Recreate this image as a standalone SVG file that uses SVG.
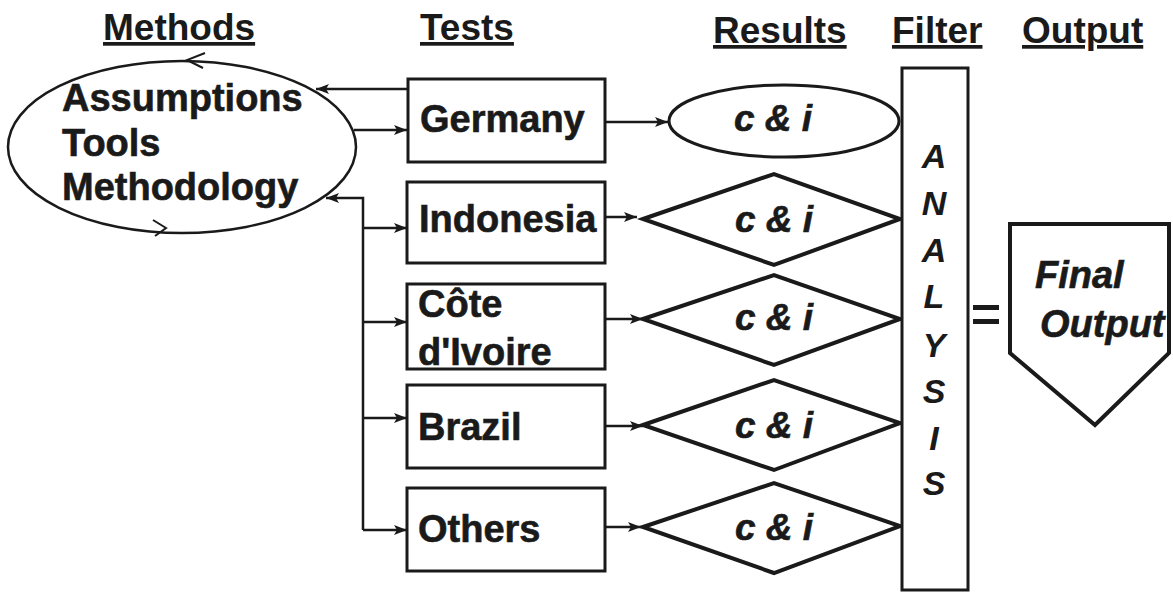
<svg xmlns="http://www.w3.org/2000/svg" width="1173" height="592" viewBox="0 0 1173 592">
<style>
.hdr{font-family:"Liberation Sans",Arial,sans-serif;font-weight:bold;font-size:37px;fill:#1a1a1a;text-decoration:underline}
.lbl{font-family:"Liberation Sans",Arial,sans-serif;font-weight:bold;font-size:38px;fill:#1a1a1a;stroke:#1a1a1a;stroke-width:0.6}
.it{font-family:"Liberation Sans",Arial,sans-serif;font-weight:bold;font-style:italic;font-size:37px;fill:#1a1a1a;stroke:#1a1a1a;stroke-width:0.6}
.ana{font-family:"Liberation Sans",Arial,sans-serif;font-weight:bold;font-style:italic;font-size:34px;fill:#1a1a1a;text-anchor:middle}
.box{fill:#fff;stroke:#1a1a1a;stroke-width:3}
.dia{fill:#fff;stroke:#1a1a1a;stroke-width:4;stroke-linejoin:miter}
.con{fill:none;stroke:#1a1a1a;stroke-width:2.5}
.chev{fill:none;stroke:#1a1a1a;stroke-width:2}
</style>
<defs>
<marker id="ah" markerWidth="14" markerHeight="12" refX="13" refY="6" orient="auto" markerUnits="userSpaceOnUse">
<path d="M0,1 L13,6 L0,11 L3,6 z" fill="#1a1a1a"/>
</marker>
</defs>
<rect width="1173" height="592" fill="#fff"/>

<g id="headers">
<text class="hdr" x="103" y="40">Methods</text>
<text class="hdr" x="420" y="40">Tests</text>
<text class="hdr" x="713" y="43">Results</text>
<text class="hdr" x="892" y="43">Filter</text>
<text class="hdr" x="1022" y="43">Output</text>
</g>

<g id="connectors">
<line class="con" x1="408" y1="89" x2="316" y2="89" marker-end="url(#ah)"/>
<line class="con" x1="354" y1="130" x2="407" y2="130" marker-end="url(#ah)"/>
<polyline class="con" points="363,530 363,198 326,198" marker-end="url(#ah)"/>
<line class="con" x1="363" y1="228" x2="407" y2="228" marker-end="url(#ah)"/>
<line class="con" x1="363" y1="322" x2="407" y2="322" marker-end="url(#ah)"/>
<line class="con" x1="363" y1="418" x2="407" y2="418" marker-end="url(#ah)"/>
<line class="con" x1="363" y1="530" x2="407" y2="530" marker-end="url(#ah)"/>
<line class="con" x1="605" y1="122" x2="668" y2="122" marker-end="url(#ah)"/>
<line class="con" x1="605" y1="217" x2="637" y2="217" marker-end="url(#ah)"/>
<line class="con" x1="605" y1="319" x2="643" y2="319" marker-end="url(#ah)"/>
<line class="con" x1="605" y1="426" x2="643" y2="426" marker-end="url(#ah)"/>
<line class="con" x1="605" y1="527" x2="641" y2="527" marker-end="url(#ah)"/>
</g>

<g id="methods">
<ellipse cx="182" cy="147" rx="174" ry="86" fill="none" stroke="#1a1a1a" stroke-width="2.5"/>
<polyline class="chev" points="205,53 187,60 203,68"/>
<polyline class="chev" points="153,220 166,228 155,236"/>
<text class="lbl" x="62" y="111">Assumptions</text>
<text class="lbl" x="62" y="156">Tools</text>
<text class="lbl" x="62" y="200">Methodology</text>
</g>

<g id="germany">
<rect class="box" x="408" y="79" width="197" height="83"/>
<text class="lbl" x="420" y="132">Germany</text>
</g>
<g id="indonesia">
<rect class="box" x="407" y="182" width="198" height="81"/>
<text class="lbl" x="419" y="232">Indonesia</text>
</g>
<g id="cote">
<rect class="box" x="407" y="284" width="198" height="85"/>
<text class="lbl" x="418" y="317">Côte</text>
<text class="lbl" x="418" y="365">d'Ivoire</text>
</g>
<g id="brazil">
<rect class="box" x="407" y="385" width="198" height="83"/>
<text class="lbl" x="418" y="440">Brazil</text>
</g>
<g id="others">
<rect class="box" x="407" y="488" width="198" height="83"/>
<text class="lbl" x="418" y="542">Others</text>
</g>

<g id="result-germany">
<ellipse cx="784" cy="121" rx="115" ry="36" fill="#fff" stroke="#1a1a1a" stroke-width="3"/>
<text class="it" x="773" y="131" text-anchor="middle">c &amp; i</text>
</g>
<g id="result-indonesia">
<polygon class="dia" points="643,219 774,174 900,219 774,265"/>
<text class="it" x="774" y="232" text-anchor="middle">c &amp; i</text>
</g>
<g id="result-cote">
<polygon class="dia" points="643,319 774,275 900,319 774,365"/>
<text class="it" x="774" y="330" text-anchor="middle">c &amp; i</text>
</g>
<g id="result-brazil">
<polygon class="dia" points="643,425 774,380 900,423 774,470"/>
<text class="it" x="774" y="438" text-anchor="middle">c &amp; i</text>
</g>
<g id="result-others">
<polygon class="dia" points="643,527 774,483 900,526 774,573"/>
<text class="it" x="774" y="540" text-anchor="middle">c &amp; i</text>
</g>

<g id="analysis">
<rect class="box" x="902" y="68" width="66" height="522"/>
<text class="ana" x="934" y="168">A</text>
<text class="ana" x="934" y="215">N</text>
<text class="ana" x="934" y="262">A</text>
<text class="ana" x="934" y="308">L</text>
<text class="ana" x="934" y="357">Y</text>
<text class="ana" x="934" y="403">S</text>
<text class="ana" x="934" y="450">I</text>
<text class="ana" x="934" y="495">S</text>
</g>

<g id="equals">
<rect x="973" y="305" width="26" height="5" fill="#1a1a1a"/>
<rect x="973" y="319" width="26" height="5" fill="#1a1a1a"/>
</g>

<g id="final-output">
<polygon points="1010,224 1169,224 1169,353 1095,425 1010,353" fill="#fff" stroke="#1a1a1a" stroke-width="4"/>
<text class="it" x="1035" y="288" style="font-size:38px">Final</text>
<text class="it" x="1040" y="337" style="font-size:38px">Output</text>
</g>
</svg>
